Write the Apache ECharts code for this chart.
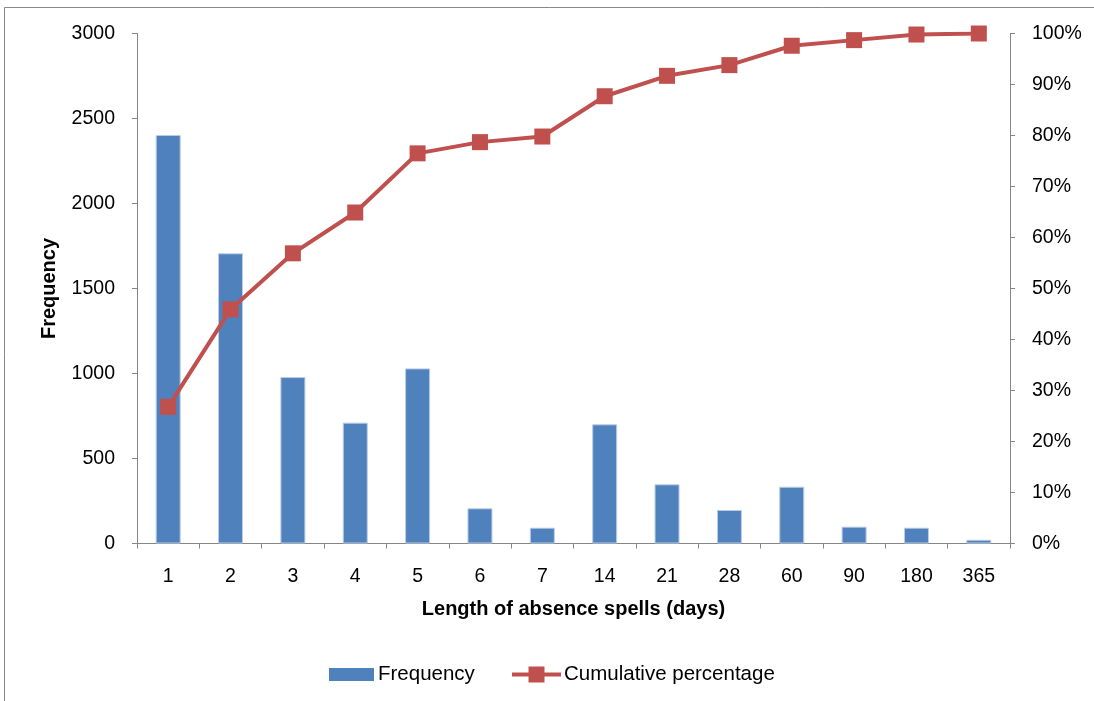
<!DOCTYPE html>
<html>
<head>
<meta charset="utf-8">
<script src="https://cdn.jsdelivr.net/npm/echarts@6/dist/echarts.min.js"></script>
<style>
html,body{margin:0;padding:0;background:#fff;}
#chart{width:1094px;height:701px;}
</style>
</head>
<body>
<div id="chart"></div>
<script>
const categories = ['1','2','3','4','5','6','7','14','21','28','60','90','180','365'];
const frequency = [2403, 1707, 979, 711, 1030, 207, 93, 701, 348, 197, 334, 99, 93, 22];
const cumulativePct = [26.8, 45.9, 56.9, 64.9, 76.5, 78.7, 79.8, 87.7, 91.7, 93.8, 97.6, 98.7, 99.8, 100];
const leftTicks = {min: 0, max: 3000, interval: 500};
const rightTicks = {min: 0, max: 100, interval: 10};

const FONT = '"Liberation Sans", Arial, sans-serif';
const AXIS_COLOR = '#868686';
const chart = echarts.init(document.getElementById('chart'), null, {renderer: 'canvas'});
chart.setOption({
  animation: false,
  backgroundColor: '#ffffff',
  textStyle: {fontFamily: FONT, color: '#000'},
  graphic: [{
    type: 'rect',
    shape: {x: 4.5, y: 7.5, width: 1200, height: 800},
    style: {fill: 'none', stroke: '#888888', lineWidth: 1},
    silent: true, z: -10
  }],
  grid: {left: 137, right: 84, top: 33.5, bottom: 157.5, containLabel: false},
  legend: [{
    data: [{name: 'Frequency', icon: 'rect'}],
    left: 329, top: 664, padding: 0,
    itemWidth: 45, itemHeight: 13, itemGap: 5,
    itemStyle: {borderWidth: 0},
    textStyle: {fontFamily: FONT, fontSize: 20.5, color: '#000', padding: [0, 0, 0, -1]},
  }, {
    data: ['Cumulative percentage'],
    left: 510, top: 664, padding: 0,
    itemWidth: 49, itemHeight: 20,
    lineStyle: {width: 4},
    textStyle: {fontFamily: FONT, fontSize: 20.5, color: '#000', padding: [0, 0, 0, -2]}
  }],
  xAxis: {
    type: 'category',
    data: categories,
    boundaryGap: true,
    name: 'Length of absence spells (days)',
    nameLocation: 'middle',
    nameGap: 56,
    nameTextStyle: {fontFamily: FONT, fontSize: 20, fontWeight: 'bold', color: '#000'},
    axisLine: {lineStyle: {color: AXIS_COLOR, width: 1}},
    axisTick: {show: true, length: 5, alignWithLabel: false, lineStyle: {color: AXIS_COLOR}},
    axisLabel: {fontFamily: FONT, fontSize: 19.5, color: '#000', margin: 23, interval: 0},
    splitLine: {show: false}
  },
  yAxis: [{
    type: 'value',
    min: leftTicks.min, max: leftTicks.max, interval: leftTicks.interval,
    name: 'Frequency',
    nameLocation: 'middle',
    nameGap: 78,
    nameRotate: 90,
    nameTextStyle: {fontFamily: FONT, fontSize: 20, fontWeight: 'bold', color: '#000'},
    axisLine: {show: true, lineStyle: {color: AXIS_COLOR, width: 1}},
    axisTick: {show: true, length: 5, lineStyle: {color: AXIS_COLOR}},
    axisLabel: {fontFamily: FONT, fontSize: 19.5, color: '#000', margin: 22, formatter: function (v) { return String(v); }},
    splitLine: {show: false}
  }, {
    type: 'value',
    position: 'right',
    min: rightTicks.min, max: rightTicks.max, interval: rightTicks.interval,
    axisLine: {show: true, lineStyle: {color: AXIS_COLOR, width: 1}},
    axisTick: {show: true, length: 5, lineStyle: {color: AXIS_COLOR}},
    axisLabel: {fontFamily: FONT, fontSize: 19.5, color: '#000', margin: 22, formatter: '{value}%'},
    splitLine: {show: false}
  }],
  series: [{
    name: 'Frequency',
    type: 'bar',
    data: frequency,
    yAxisIndex: 0,
    barWidth: 25,
    itemStyle: {color: '#4F81BD', borderColor: '#B9CDE5', borderWidth: 1}
  }, {
    name: 'Cumulative percentage',
    type: 'line',
    data: cumulativePct,
    yAxisIndex: 1,
    symbol: 'rect',
    symbolSize: 16,
    showAllSymbol: true,
    lineStyle: {color: '#C0504D', width: 4},
    itemStyle: {color: '#C0504D'},
    z: 5
  }]
});
</script>
</body>
</html>
